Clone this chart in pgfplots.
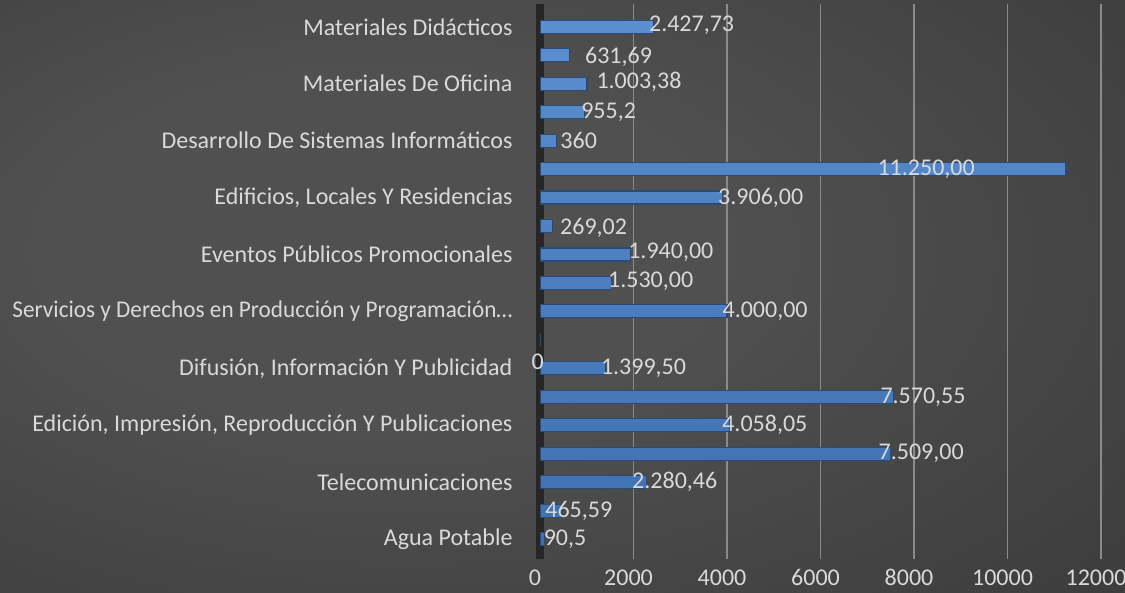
\documentclass[border=0pt]{standalone}
\usepackage{pgfplots}
\pgfplotsset{compat=1.18}
\usepackage{pgfplotstable}
\usepackage{graphicx}
\usepackage{fontspec}
\setmainfont{Carlito}
\definecolor{bgin}{HTML}{505050}
\definecolor{bgout}{HTML}{2C2C2C}
\definecolor{txt}{HTML}{D9D9D9}
\definecolor{barT}{HTML}{5B8FD0}
\definecolor{barB}{HTML}{3F6FB0}
\definecolor{barE}{HTML}{2A4A78}
\definecolor{gridc}{HTML}{8A8A8A}
\pgfdeclareradialshading{bg}{\pgfpoint{-10bp}{5bp}}{color(0bp)=(bgin); color(15bp)=(bgin); color(62bp)=(bgout); color(80bp)=(bgout)}
\pgfplotstableread{
y v lab dx dy
0 90.5 90,5 -1 0
1 465.59 465,59 -17 0
2 2280.46 2.280,46 -15 0
3 7509 7.509,00 -13 0
4 4058.05 4.058,05 -8 0
5 7570.55 7.570,55 -14 0
6 1399.5 1.399,50 -5 0
7 0 0 -9 -22
8 4000 4.000,00 -5 0
9 1530 1.530,00 -4 2
10 1940 1.940,00 -3 2
11 269.02 269,02 7 -2
12 3906 3.906,00 -5 0
13 11250 11.250,00 -189 0
14 360 360 3 0
15 955.2 955,2 -4 0
16 1003.38 1.003,38 9 2
17 631.69 631,69 15 -2
18 2427.73 2.427,73 -5 2
}\datatable
\begin{document}
\begin{tikzpicture}
\shade[shading=bg] (0,0) rectangle (1125bp,593bp);
\useasboundingbox (0,0) rectangle (1125bp,593bp);
\begin{axis}[
  at={(540bp,34bp)}, anchor=south west,
  scale only axis, width=561bp, height=555bp,
  xmin=0, xmax=12000, ymin=-0.7, ymax=18.8,
  xtick={0,2000,...,12000},
  ytick={0,2,...,18},
  yticklabels={Agua Potable,Telecomunicaciones,{Edición, Impresión, Reproducción Y Publicaciones},{Difusión, Información Y Publicidad},{\resizebox{500bp}{\height}{Servicios y Derechos en Producción y Programación…}},Eventos Públicos Promocionales,{Edificios, Locales Y Residencias},Desarrollo De Sistemas Informáticos,Materiales De Oficina,Materiales Didácticos},
  font=\fontsize{24bp}{28bp}\selectfont,
  ticklabel style={text=txt},
  xticklabel style={xshift=-5bp, yshift=-7bp},
  yticklabel style={xshift=-24bp},
  scaled x ticks=false,
  x tick label style={/pgf/number format/1000 sep={}},
  /pgf/number format/assume math mode=true,
  major tick length=0pt,
  xmajorgrids, major grid style={gridc, line width=1.6bp},
  separate axis lines,
  x axis line style={draw=none},
  y axis line style={draw=black!85, line width=7bp},
  axis y line*=left,
  axis x line*=bottom,
  xbar, bar width=13bp,
  nodes near coords,
  point meta=explicit symbolic,
  visualization depends on={\thisrow{dx} \as \dx},
  visualization depends on={\thisrow{dy} \as \dy},
  nodes near coords style={anchor=west, inner sep=0pt, text=txt, xshift={\dx*1bp}, yshift={\dy*1bp}, font=\fontsize{24bp}{28bp}\selectfont},
]
\addplot[draw=barE, line width=1.2bp, top color=barT, bottom color=barB] table[x=v, y=y, meta=lab] {\datatable};
\end{axis}
\end{tikzpicture}
\end{document}
